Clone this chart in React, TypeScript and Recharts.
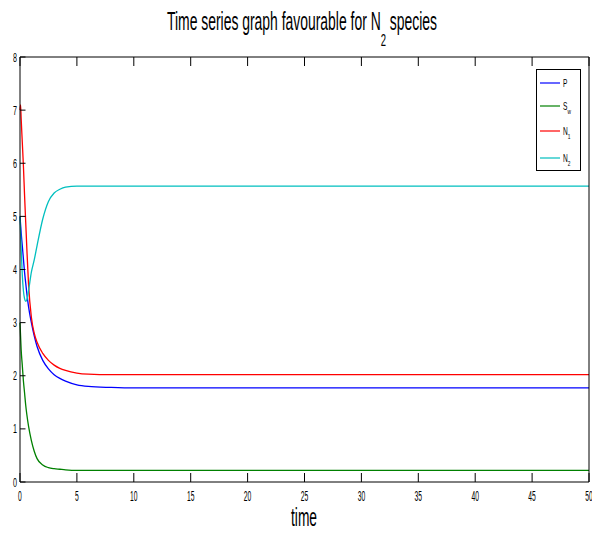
import { LineChart, Line, XAxis, YAxis, Legend } from 'recharts';

// values
const times = [0, 0.05, 0.1, 0.2, 0.3, 0.4, 0.5, 0.6, 0.75, 1, 1.25, 1.5, 2, 2.5, 3, 3.5, 4, 5, 6, 8, 10, 20, 30, 40, 50];
const pValues = [5.0, 4.85, 4.7, 4.45, 4.2, 3.95, 3.75, 3.55, 3.3, 3.0, 2.75, 2.55, 2.29, 2.13, 2.02, 1.95, 1.9, 1.83, 1.8, 1.78, 1.77, 1.77, 1.77, 1.77, 1.77];
const swValues = [3.0, 2.75, 2.5, 2.2, 1.9, 1.68, 1.45, 1.27, 1.05, 0.78, 0.58, 0.44, 0.32, 0.27, 0.25, 0.24, 0.23, 0.22, 0.22, 0.22, 0.22, 0.22, 0.22, 0.22, 0.22];
const n1Values = [7.0, 7.1, 6.85, 6.4, 5.95, 5.4, 4.9, 4.4, 3.72, 3.1, 2.8, 2.63, 2.42, 2.29, 2.2, 2.14, 2.1, 2.05, 2.03, 2.02, 2.02, 2.02, 2.02, 2.02, 2.02];
const n2Values = [5.0, 4.7, 4.4, 3.9, 3.6, 3.45, 3.4, 3.43, 3.6, 3.95, 4.18, 4.45, 4.95, 5.28, 5.44, 5.51, 5.55, 5.57, 5.57, 5.57, 5.57, 5.57, 5.57, 5.57, 5.57];

const seriesKeys = ['P', 'Sw', 'N1', 'N2'];
const seriesNames = ['P', 'S', 'N', 'N'];
const seriesSubs = ['', 'w', '1', '2'];
const seriesColors = ['#0000ff', '#008000', '#ff0000', '#00bfbf'];

const xTicks = [0, 5, 10, 15, 20, 25, 30, 35, 40, 45, 50];
const yTicks = [0, 1, 2, 3, 4, 5, 6, 7, 8];

const data = times.map((t, i) => ({
  t,
  P: pValues[i],
  Sw: swValues[i],
  N1: n1Values[i],
  N2: n2Values[i],
}));

const font = '"Liberation Sans", Arial, sans-serif';

const BottomTick = (props: any) => {
  const { x, y, payload } = props;
  return (
    <g>
      <line x1={x} y1={y} x2={x} y2={y - 9} stroke="#000" />
      <text transform={`translate(${x},${y + 19}) scale(0.45,1)`} textAnchor="middle" fontSize={15} fontFamily={font} fill="#000">
        {payload.value}
      </text>
    </g>
  );
};

const TopTick = (props: any) => {
  const { x, y } = props;
  return <line x1={x} y1={y} x2={x} y2={y + 9} stroke="#000" />;
};

const LeftTick = (props: any) => {
  const { x, y, payload } = props;
  return (
    <g>
      <line x1={x} y1={y} x2={x + 5.5} y2={y} stroke="#000" />
      <text transform={`translate(${x - 3},${y + 4.5}) scale(0.55,1)`} textAnchor="end" fontSize={13} fontFamily={font} fill="#000">
        {payload.value}
      </text>
    </g>
  );
};

const RightTick = (props: any) => {
  const { x, y } = props;
  return <line x1={x} y1={y} x2={x - 5.5} y2={y} stroke="#000" />;
};

const legendRows = [14, 37, 62, 89];

const renderLegend = () => (
  <svg width={45} height={102} style={{ display: 'block' }}>
    <rect x={0.5} y={0.5} width={44} height={101} fill="#fff" stroke="#000" />
    {seriesKeys.map((k, i) => (
      <g key={k}>
        <line x1={4} y1={legendRows[i]} x2={24} y2={legendRows[i]} stroke={seriesColors[i]} strokeWidth={1.2} />
        <text transform={`translate(27,${legendRows[i] + 3.5}) scale(0.6,1)`} fontSize={11} fontFamily={font} fill="#000">
          {seriesNames[i]}
          {seriesSubs[i] && (
            <tspan fontSize={8} dy={4}>{seriesSubs[i]}</tspan>
          )}
        </text>
      </g>
    ))}
  </svg>
);

export default function App() {
  return (
    <div style={{ position: 'absolute', left: 0, top: 0, width: 592, height: 533, background: '#fff' }}>
      <LineChart width={592} height={533} data={data} margin={{ top: 56, right: 2, bottom: 50, left: 19 }}>
        <XAxis
          dataKey="t"
          type="number"
          domain={[0, 50]}
          ticks={xTicks}
          height={1}
          tickSize={0}
          tickMargin={0}
          stroke="#000"
          tick={BottomTick}
          interval={0}
        />
        <XAxis
          xAxisId="top"
          orientation="top"
          dataKey="t"
          type="number"
          domain={[0, 50]}
          ticks={xTicks}
          height={1}
          tickSize={0}
          tickMargin={0}
          stroke="#000"
          tick={TopTick}
          interval={0}
        />
        <YAxis
          type="number"
          domain={[0, 8]}
          ticks={yTicks}
          width={1}
          tickSize={0}
          tickMargin={0}
          stroke="#000"
          tick={LeftTick}
          interval={0}
        />
        <YAxis
          yAxisId="right"
          orientation="right"
          type="number"
          domain={[0, 8]}
          ticks={yTicks}
          width={1}
          tickSize={0}
          tickMargin={0}
          stroke="#000"
          tick={RightTick}
          interval={0}
        />
        {seriesKeys.map((k, i) => (
          <Line
            key={k}
            dataKey={k}
            name={k}
            type="monotone"
            stroke={seriesColors[i]}
            strokeWidth={1.3}
            dot={false}
            activeDot={false}
            isAnimationActive={false}
          />
        ))}
        <Legend
          layout="vertical"
          align="center"
          verticalAlign="middle"
          content={renderLegend}
          wrapperStyle={{ left: 536, top: 69, width: 45, height: 102 }}
        />
      </LineChart>
      <svg width={592} height={533} style={{ position: 'absolute', left: 0, top: 0, pointerEvents: 'none' }}>
        <text transform="translate(167,30) scale(0.557,1)" fontSize={25} fontFamily={font} fill="#000">
          Time series graph favourable for N
          <tspan fontSize={17} dy={16}>2</tspan>
          <tspan dy={-16}> species</tspan>
        </text>
        <text transform="translate(291,526) scale(0.53,1)" fontSize={26} fontFamily={font} fill="#000">
          time
        </text>
      </svg>
    </div>
  );
}
